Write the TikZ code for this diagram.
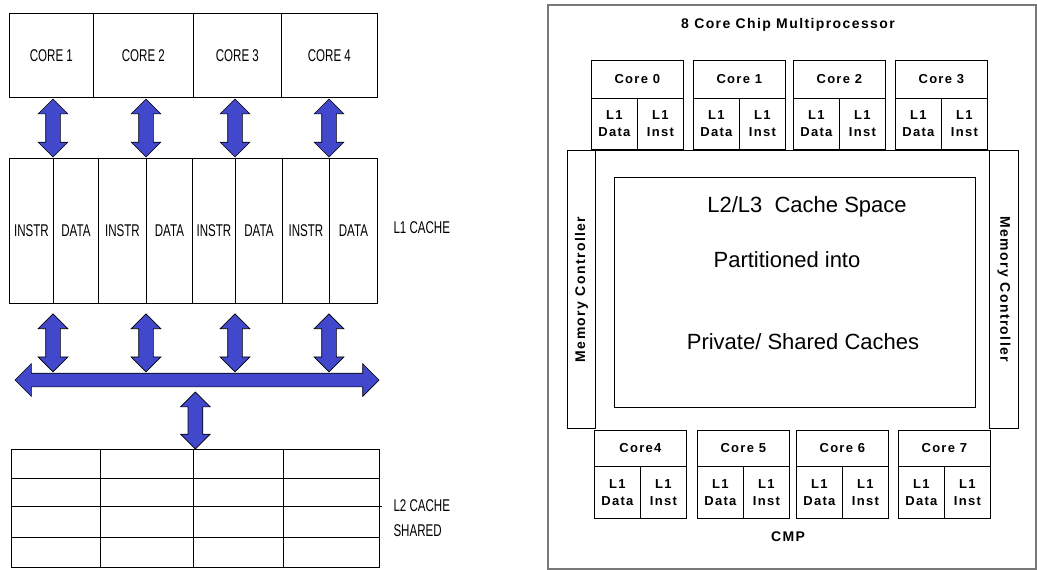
\documentclass[tikz,border=0pt]{standalone}
\usepackage{fontspec}
\setmainfont{Liberation Sans}
\newfontfamily\narrowfont[FakeStretch=0.68]{Liberation Sans}
\newfontfamily\cmpfont[LetterSpace=10]{Liberation Sans}
\usetikzlibrary{shapes.arrows}

\definecolor{busblue}{RGB}{66,72,204}
\definecolor{framegray}{RGB}{120,120,120}

\begin{document}
\begin{tikzpicture}[x=1pt, y=-1pt,
    cell/.style={draw, line width=0.8pt, inner sep=0pt, anchor=north west},
    leftcell/.style={cell, font=\narrowfont\fontsize{17}{19}\selectfont},
    rcell/.style={cell, align=center, font=\cmpfont\bfseries\fontsize{13}{17}\selectfont},
    vbar/.style={double arrow, rotate=90, draw=black, fill=busblue, line width=0.7pt,
        inner sep=7pt, double arrow head extend=7.5pt, minimum height=58pt},
    hbar/.style={double arrow, draw=black, fill=busblue, line width=0.7pt,
        inner sep=6.5pt, double arrow head extend=9.5pt},
    bigtext/.style={font=\fontsize{22}{26}\selectfont}]

    \useasboundingbox (0,0) rectangle (1037,570);

    % Cores
    \node[leftcell, minimum width=84pt, minimum height=84pt] (core1) at (9,13) {CORE 1};
    \node[leftcell, minimum width=100pt, minimum height=84pt] (core2) at (93,13) {CORE 2};
    \node[leftcell, minimum width=88pt, minimum height=84pt] (core3) at (193,13) {CORE 3};
    \node[leftcell, minimum width=96pt, minimum height=84pt] (core4) at (281,13) {CORE 4};

    % L1 cache
    \node[leftcell, minimum width=44pt, minimum height=145pt] (instr1) at (9,158) {INSTR};
    \node[leftcell, minimum width=45pt, minimum height=145pt] (data1) at (53,158) {DATA};
    \node[leftcell, minimum width=48pt, minimum height=145pt] (instr2) at (98,158) {INSTR};
    \node[leftcell, minimum width=46pt, minimum height=145pt] (data2) at (146,158) {DATA};
    \node[leftcell, minimum width=43pt, minimum height=145pt] (instr3) at (192,158) {INSTR};
    \node[leftcell, minimum width=47pt, minimum height=145pt] (data3) at (235,158) {DATA};
    \node[leftcell, minimum width=47pt, minimum height=145pt] (instr4) at (282,158) {INSTR};
    \node[leftcell, minimum width=48pt, minimum height=145pt] (data4) at (329,158) {DATA};
    \node[font=\narrowfont\fontsize{17}{19}\selectfont, anchor=west] (l1label) at (390,228) {L1 CACHE};

    % arrows core -> L1
    \node[vbar] (up1) at ([yshift=30pt]data1.north west) {};
    \node[vbar] (up2) at ([yshift=30pt]data2.north west) {};
    \node[vbar] (up3) at ([yshift=30pt]data3.north west) {};
    \node[vbar] (up4) at ([yshift=30pt]data4.north west) {};

    % arrows L1 -> bus
    \node[vbar] (down1) at ([yshift=-39pt]data1.south west) {};
    \node[vbar] (down2) at ([yshift=-39pt]data2.south west) {};
    \node[vbar] (down3) at ([yshift=-39pt]data3.south west) {};
    \node[vbar] (down4) at ([yshift=-39pt]data4.south west) {};

    % bus
    \node[hbar, minimum height=364pt] (bus) at (197,380) {};

    % L2 shared
    \node[cell, minimum width=368pt, minimum height=118pt] (l2cache) at (11,449) {};
    \draw[line width=0.8pt] (100,449) -- (100,567) (193,449) -- (193,567) (283,449) -- (283,567);
    \draw[line width=0.8pt] (11,478) -- (379,478) (11,506) -- (382,506) (11,537) -- (379,537);
    \node[vbar, minimum height=57pt] (busl2) at ([yshift=28.5pt]l2cache.north) {};
    \node[font=\narrowfont\fontsize{17}{19}\selectfont, anchor=west] (l2label) at (390,506) {L2 CACHE};
    \node[font=\narrowfont\fontsize{17}{19}\selectfont, anchor=west] (shlabel) at (390,531) {SHARED};

    % CMP frame
    \draw[framegray, line width=1.2pt] (548,5) rectangle (1036,569);
    \node[font=\cmpfont\bfseries\fontsize{14}{16}\selectfont] (title) at (788,25) {8 Core Chip Multiprocessor};
    \node[font=\cmpfont\bfseries\fontsize{14}{16}\selectfont] (cmp) at (788,537) {CMP};

\begin{scope}[shift={(591,60)}]
    % Core 0
    \node[rcell, minimum width=92pt, minimum height=38pt] (c0) at (0,0) {Core 0};
    \node[rcell, minimum width=46pt, minimum height=51pt] (c0d) at (0,38) {L1\\Data};
    \node[rcell, minimum width=46pt, minimum height=51pt] (c0i) at (46,38) {L1\\Inst};
\end{scope}
\begin{scope}[shift={(693,60)}]
    % Core 1
    \node[rcell, minimum width=92pt, minimum height=38pt] (c1) at (0,0) {Core 1};
    \node[rcell, minimum width=46pt, minimum height=51pt] (c1d) at (0,38) {L1\\Data};
    \node[rcell, minimum width=46pt, minimum height=51pt] (c1i) at (46,38) {L1\\Inst};
\end{scope}
\begin{scope}[shift={(793,60)}]
    % Core 2
    \node[rcell, minimum width=92pt, minimum height=38pt] (c2) at (0,0) {Core 2};
    \node[rcell, minimum width=46pt, minimum height=51pt] (c2d) at (0,38) {L1\\Data};
    \node[rcell, minimum width=46pt, minimum height=51pt] (c2i) at (46,38) {L1\\Inst};
\end{scope}
\begin{scope}[shift={(895,60)}]
    % Core 3
    \node[rcell, minimum width=92pt, minimum height=38pt] (c3) at (0,0) {Core 3};
    \node[rcell, minimum width=46pt, minimum height=51pt] (c3d) at (0,38) {L1\\Data};
    \node[rcell, minimum width=46pt, minimum height=51pt] (c3i) at (46,38) {L1\\Inst};
\end{scope}

    % Memory controllers
    \node[cell, minimum width=28pt, minimum height=278pt] (mcleft) at (567,150) {};
    \node[cell, minimum width=29pt, minimum height=278pt] (mcright) at (989,150) {};
    \draw[line width=0.8pt] (mcleft.north east) -- (mcright.north west);
    \node[rotate=90, font=\cmpfont\bfseries\fontsize{14}{16}\selectfont] (mcltext) at (mcleft.center) {Memory Controller};
    \node[rotate=-90, font=\cmpfont\bfseries\fontsize{14}{16}\selectfont] (mcrtext) at (mcright.center) {Memory Controller};

    % L2/L3 cache space
    \node[cell, minimum width=361pt, minimum height=230pt] (l2box) at (614,177) {};
    \node[bigtext] (cspace) at (807,207) {L2/L3\ \ Cache Space};
    \node[bigtext] (cpart) at (787,260) {Partitioned into};
    \node[bigtext] (cpriv) at (803,342) {Private/ Shared Caches};

\begin{scope}[shift={(594,430)}]
    % Core 4
    \node[rcell, minimum width=92pt, minimum height=36pt] (c4) at (0,0) {Core4};
    \node[rcell, minimum width=46pt, minimum height=52pt] (c4d) at (0,36) {L1\\Data};
    \node[rcell, minimum width=46pt, minimum height=52pt] (c4i) at (46,36) {L1\\Inst};
\end{scope}
\begin{scope}[shift={(697,430)}]
    % Core 5
    \node[rcell, minimum width=92pt, minimum height=36pt] (c5) at (0,0) {Core 5};
    \node[rcell, minimum width=46pt, minimum height=52pt] (c5d) at (0,36) {L1\\Data};
    \node[rcell, minimum width=46pt, minimum height=52pt] (c5i) at (46,36) {L1\\Inst};
\end{scope}
\begin{scope}[shift={(796,430)}]
    % Core 6
    \node[rcell, minimum width=92pt, minimum height=36pt] (c6) at (0,0) {Core 6};
    \node[rcell, minimum width=46pt, minimum height=52pt] (c6d) at (0,36) {L1\\Data};
    \node[rcell, minimum width=46pt, minimum height=52pt] (c6i) at (46,36) {L1\\Inst};
\end{scope}
\begin{scope}[shift={(898,430)}]
    % Core 7
    \node[rcell, minimum width=92pt, minimum height=36pt] (c7) at (0,0) {Core 7};
    \node[rcell, minimum width=46pt, minimum height=52pt] (c7d) at (0,36) {L1\\Data};
    \node[rcell, minimum width=46pt, minimum height=52pt] (c7i) at (46,36) {L1\\Inst};
\end{scope}

\end{tikzpicture}
\end{document}
